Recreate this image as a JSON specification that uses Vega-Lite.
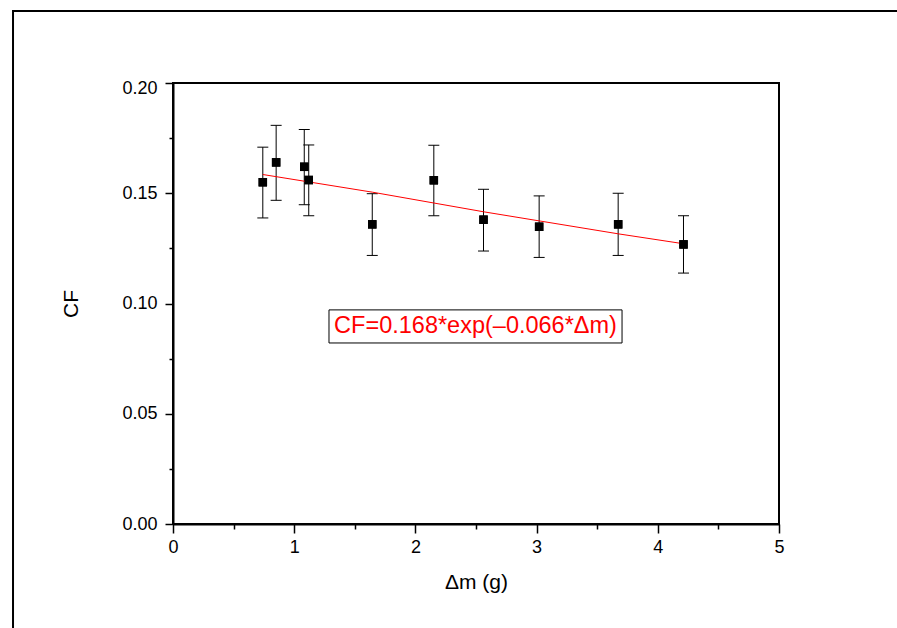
{
  "$schema": "https://vega.github.io/schema/vega-lite/v6.json",
  "autosize": {"type": "none"},
  "padding": {"left": 173, "top": 83, "right": 118, "bottom": 104},
  "width": 606,
  "height": 441,
  "background": "white",
  "config": {
    "view": {"stroke": "black", "strokeWidth": 2},
    "font": "Liberation Sans"
  },
  "datasets": {
    "pts": [
      {"dm": 0.741, "cf": 0.1550, "lo": 0.1388, "hi": 0.1709},
      {"dm": 0.851, "cf": 0.1640, "lo": 0.1468, "hi": 0.1808},
      {"dm": 1.083, "cf": 0.1620, "lo": 0.1448, "hi": 0.1789},
      {"dm": 1.120, "cf": 0.1560, "lo": 0.1398, "hi": 0.1719},
      {"dm": 1.644, "cf": 0.1359, "lo": 0.1218, "hi": 0.1498},
      {"dm": 2.152, "cf": 0.1559, "lo": 0.1398, "hi": 0.1718},
      {"dm": 2.562, "cf": 0.1380, "lo": 0.1238, "hi": 0.1518},
      {"dm": 3.021, "cf": 0.1348, "lo": 0.1209, "hi": 0.1488},
      {"dm": 3.673, "cf": 0.1359, "lo": 0.1218, "hi": 0.1500},
      {"dm": 4.212, "cf": 0.1268, "lo": 0.1138, "hi": 0.1398}
    ],
    "fit": [
      {"dm": 0.741, "cf": 0.1585},
      {"dm": 1.644, "cf": 0.1505},
      {"dm": 2.562, "cf": 0.1416},
      {"dm": 3.673, "cf": 0.1316},
      {"dm": 4.212, "cf": 0.1271}
    ],
    "one": [{"k": 1}]
  },
  "layer": [
    {
      "data": {"name": "pts"},
      "mark": {"type": "point", "shape": "square", "filled": true, "size": 72, "color": "black", "opacity": 1},
      "encoding": {
        "x": {
          "field": "dm", "type": "quantitative",
          "scale": {"domain": [0, 5], "nice": false, "zero": false},
          "axis": {
            "values": [0, 0.5, 1, 1.5, 2, 2.5, 3, 3.5, 4, 4.5, 5],
            "labelExpr": "datum.value % 1 === 0 ? format(datum.value, 'd') : ''",
            "tickSize": {"condition": {"test": "datum.value % 1 === 0", "value": 9}, "value": 5},
            "title": "Δm (g)",
            "grid": false,
            "domainColor": "black", "domainWidth": 2,
            "tickColor": "black", "tickWidth": 1.5,
            "labelFont": "Liberation Sans", "labelFontSize": 18, "labelColor": "black",
            "labelPadding": 5, "labelFlush": false, "labelOverlap": false,
            "titleFont": "Liberation Sans", "titleFontSize": 21, "titleFontWeight": "normal",
            "titleColor": "black", "titlePadding": 15
          }
        },
        "y": {
          "field": "cf", "type": "quantitative",
          "scale": {"domain": [0, 0.2], "nice": false, "zero": false},
          "axis": {
            "values": [0, 0.025, 0.05, 0.075, 0.1, 0.125, 0.15, 0.175, 0.2],
            "labelExpr": "round(datum.value * 1000) % 50 === 0 ? format(datum.value, '.2f') : ''",
            "tickSize": {"condition": {"test": "round(datum.value * 1000) % 50 === 0", "value": 8}, "value": 4},
            "labelOffset": {"condition": {"test": "datum.value > 0.199", "value": 5}, "value": 0},
            "title": "CF",
            "grid": false,
            "domainColor": "black", "domainWidth": 2,
            "tickColor": "black", "tickWidth": 1.5,
            "labelFont": "Liberation Sans", "labelFontSize": 18, "labelColor": "black",
            "labelPadding": 8, "labelFlush": false, "labelOverlap": false,
            "titleFont": "Liberation Sans", "titleFontSize": 21, "titleFontWeight": "normal",
            "titleColor": "black", "titlePadding": 40
          }
        }
      }
    },
    {
      "data": {"name": "one"},
      "mark": {"type": "rect", "fillOpacity": 0, "stroke": "black", "strokeWidth": 2, "clip": false},
      "encoding": {
        "x": {"datum": -1.32, "type": "quantitative", "scale": {"domain": [0, 5], "nice": false, "zero": false}},
        "x2": {"datum": 7},
        "y": {"datum": 0.2327, "type": "quantitative", "scale": {"domain": [0, 0.2], "nice": false, "zero": false}},
        "y2": {"datum": -0.1}
      }
    },
    {
      "data": {"name": "pts"},
      "mark": {"type": "rule", "color": "black", "strokeWidth": 1},
      "encoding": {
        "x": {"field": "dm", "type": "quantitative", "scale": {"domain": [0, 5], "nice": false, "zero": false}},
        "y": {"field": "lo", "type": "quantitative", "scale": {"domain": [0, 0.2], "nice": false, "zero": false}},
        "y2": {"field": "hi"}
      }
    },
    {
      "data": {"name": "pts"},
      "mark": {"type": "tick", "orient": "horizontal", "size": 11, "thickness": 1, "color": "black", "opacity": 1},
      "encoding": {
        "x": {"field": "dm", "type": "quantitative", "scale": {"domain": [0, 5], "nice": false, "zero": false}},
        "y": {"field": "lo", "type": "quantitative", "scale": {"domain": [0, 0.2], "nice": false, "zero": false}}
      }
    },
    {
      "data": {"name": "pts"},
      "mark": {"type": "tick", "orient": "horizontal", "size": 11, "thickness": 1, "color": "black", "opacity": 1},
      "encoding": {
        "x": {"field": "dm", "type": "quantitative", "scale": {"domain": [0, 5], "nice": false, "zero": false}},
        "y": {"field": "hi", "type": "quantitative", "scale": {"domain": [0, 0.2], "nice": false, "zero": false}}
      }
    },
    {
      "data": {"name": "fit"},
      "mark": {"type": "line", "color": "#ff0000", "strokeWidth": 1},
      "encoding": {
        "x": {"field": "dm", "type": "quantitative", "scale": {"domain": [0, 5], "nice": false, "zero": false}},
        "y": {"field": "cf", "type": "quantitative", "scale": {"domain": [0, 0.2], "nice": false, "zero": false}}
      }
    },
    {
      "data": {"name": "pts"},
      "mark": {"type": "point", "shape": "square", "filled": true, "size": 72, "color": "black", "opacity": 1},
      "encoding": {
        "x": {"field": "dm", "type": "quantitative", "scale": {"domain": [0, 5], "nice": false, "zero": false}},
        "y": {"field": "cf", "type": "quantitative", "scale": {"domain": [0, 0.2], "nice": false, "zero": false}}
      }
    },
    {
      "data": {"name": "one"},
      "mark": {"type": "rect", "fill": "white", "stroke": "black", "strokeWidth": 1},
      "encoding": {
        "x": {"datum": 1.287, "type": "quantitative", "scale": {"domain": [0, 5], "nice": false, "zero": false}},
        "x2": {"datum": 3.705},
        "y": {"datum": 0.0971, "type": "quantitative", "scale": {"domain": [0, 0.2], "nice": false, "zero": false}},
        "y2": {"datum": 0.0821}
      }
    },
    {
      "data": {"name": "one"},
      "mark": {"type": "text", "text": "CF=0.168*exp(–0.066*Δm)", "font": "Liberation Sans", "fontSize": 23.5, "color": "#ff0000", "align": "center", "baseline": "middle"},
      "encoding": {
        "x": {"datum": 2.496, "type": "quantitative", "scale": {"domain": [0, 5], "nice": false, "zero": false}},
        "y": {"datum": 0.0896, "type": "quantitative", "scale": {"domain": [0, 0.2], "nice": false, "zero": false}}
      }
    }
  ]
}
